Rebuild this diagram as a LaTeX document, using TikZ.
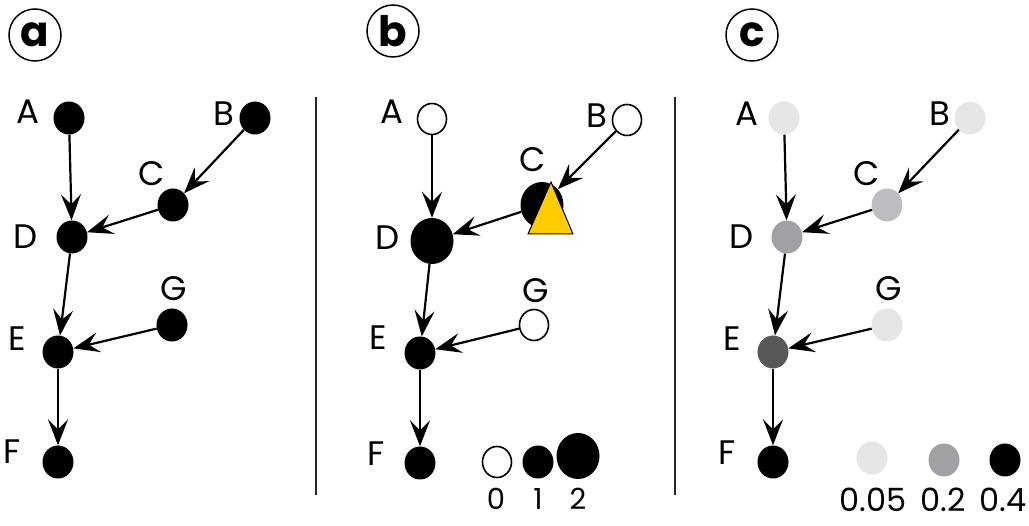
\documentclass[tikz,border=0pt]{standalone}
\usepackage{fontspec}
\setmainfont{Poppins}
\usetikzlibrary{arrows.meta,shapes.geometric}
\definecolor{gold}{HTML}{FFCC00}
\definecolor{pale}{HTML}{E6E6E6}
\definecolor{silver}{HTML}{BCBDC0}
\definecolor{midgray}{HTML}{A0A1A4}
\definecolor{darkgray}{HTML}{58585A}
\tikzset{
  dot/.style={ellipse, inner sep=0pt, minimum width=31pt, minimum height=33pt, fill=black},
  bigdot/.style={dot, minimum width=43pt, minimum height=46pt},
  opendot/.style={dot, fill=white, draw=black, line width=1.6pt, minimum width=29pt, minimum height=31pt},
  lbl/.style={inner sep=0pt, font=\fontsize{34}{34}\selectfont},
  num/.style={inner sep=0pt, font=\fontsize{29}{29}\selectfont},
  tag/.style={circle, draw, line width=1.5pt, minimum size=52pt, inner sep=0pt, font=\bfseries\fontsize{42}{42}\selectfont},
  edge/.style={-{Stealth[length=26pt, width=20pt, inset=10pt]}, line width=2.2pt},
  divider/.style={draw=black!85, line width=1.8pt}
}
\begin{document}
\begin{tikzpicture}[x=1pt, y=-1pt]
  \useasboundingbox (0,0) rectangle (1029,526);

  % -------- panel a: the graph --------
  \begin{scope}
    \node[tag] (taga) at (35,35) {a};
    \node[dot] (aA) at (69,118) {};
    \node[dot] (aB) at (255,118) {};
    \node[dot] (aC) at (173,205) {};
    \node[dot] (aD) at (72,237) {};
    \node[dot] (aG) at (172,325) {};
    \node[dot] (aE) at (58,352) {};
    \node[dot] (aF) at (58,462) {};
    \node[lbl] at (28,112) {A};
    \node[lbl] at (224,114) {B};
    \node[lbl] at (152,174) {C};
    \node[lbl] at (26,237) {D};
    \node[lbl] at (174,289) {G};
    \node[lbl] at (17,339) {E};
    \node[lbl] at (12,452) {F};
    \draw[edge] (aA) -- (aD);
    \draw[edge] (aB) -- (aC);
    \draw[edge] (aC) -- (aD);
    \draw[edge] (aD) -- (aE);
    \draw[edge] (aG) -- (aE);
    \draw[edge] (aE) -- (aF);
  \end{scope}

  % -------- dividers --------
  \draw[divider] (316,97) -- (316,495);
  \draw[divider] (675,97) -- (675,495);

  % -------- panel b: counts --------
  \begin{scope}[shift={(340,0)}]
    \node[tag] (tagb) at (53,31) {b};
    \node[opendot] (bA) at (92,119) {};
    \node[opendot] (bB) at (287,120) {};
    \node[bigdot] (bC) at (202,205) {};
    \node[bigdot] (bD) at (92,241) {};
    \node[opendot] (bG) at (194,325) {};
    \node[dot] (bE) at (80,353) {};
    \node[dot] (bF) at (80,463) {};
    \filldraw[fill=gold, draw=black, line width=1pt] (211,182) -- (188,234) -- (233,234) -- cycle;
    \node[lbl] at (52,112) {A};
    \node[lbl] at (257,116) {B};
    \node[lbl] at (193,160) {C};
    \node[lbl] at (48,238) {D};
    \node[lbl] at (196,291) {G};
    \node[lbl] at (38,338) {E};
    \node[lbl] at (36,454) {F};
    \draw[edge] (bA) -- (bD);
    \draw[edge] (bB) -- (bC);
    \draw[edge] (bC) -- (bD);
    \draw[edge] (bD) -- (bE);
    \draw[edge] (bG) -- (bE);
    \draw[edge] (bE) -- (bF);
    % legend
    \node[opendot] (bk0) at (157,462) {};
    \node[dot] (bk1) at (198,462) {};
    \node[bigdot] (bk2) at (238,456) {};
    \node[num] at (156,499) {0};
    \node[num] at (198,499) {1};
    \node[num] at (238,499) {2};
  \end{scope}

  % -------- panel c: probabilities --------
  \begin{scope}[shift={(680,0)}]
    \node[tag] (tagc) at (72,35) {c};
    \node[dot, fill=pale] (cA) at (104,118) {};
    \node[dot, fill=pale] (cB) at (290,118) {};
    \node[dot, fill=silver] (cC) at (207,205) {};
    \node[dot, fill=midgray] (cD) at (107,237) {};
    \node[dot, fill=pale] (cG) at (207,325) {};
    \node[dot, fill=darkgray] (cE) at (93,352) {};
    \node[dot] (cF) at (93,462) {};
    \node[lbl] at (67,114) {A};
    \node[lbl] at (260,114) {B};
    \node[lbl] at (187,174) {C};
    \node[lbl] at (62,237) {D};
    \node[lbl] at (209,289) {G};
    \node[lbl] at (52,339) {E};
    \node[lbl] at (47,453) {F};
    \draw[edge] (cA) -- (cD);
    \draw[edge] (cB) -- (cC);
    \draw[edge] (cC) -- (cD);
    \draw[edge] (cD) -- (cE);
    \draw[edge] (cG) -- (cE);
    \draw[edge] (cE) -- (cF);
    % legend
    \node[dot, fill=pale] (ck1) at (192,458) {};
    \node[dot, fill=midgray] (ck2) at (264,460) {};
    \node[dot] (ck3) at (325,460) {};
    \node[num, font=\fontsize{32}{32}\selectfont] at (193,500) {0.05};
    \node[num, font=\fontsize{32}{32}\selectfont] at (263,500) {0.2};
    \node[num, font=\fontsize{32}{32}\selectfont] at (323,500) {0.4};
  \end{scope}
\end{tikzpicture}
\end{document}
